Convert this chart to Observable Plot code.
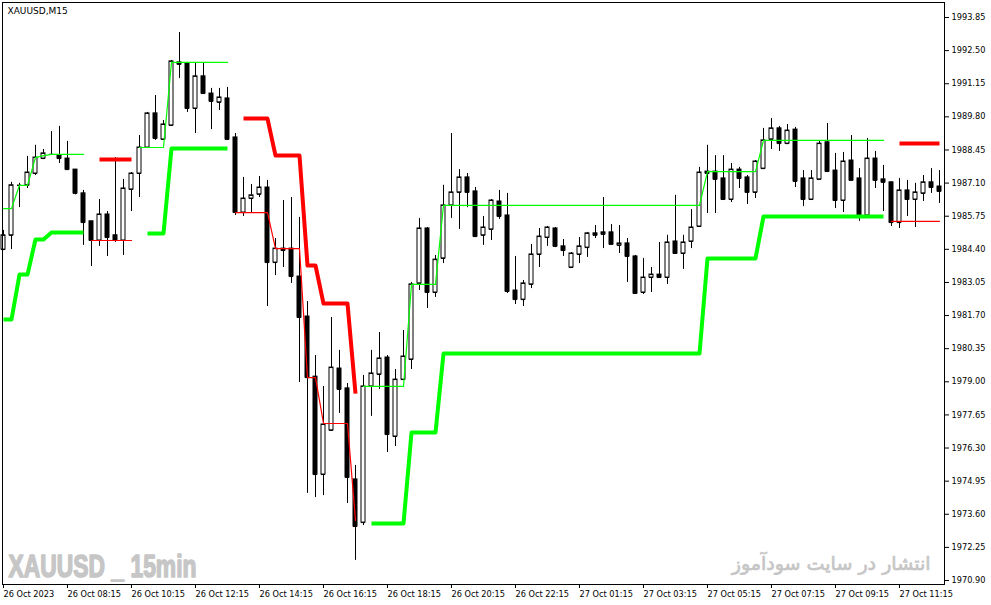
<!DOCTYPE html>
<html><head><meta charset="utf-8">
<script src="https://cdn.jsdelivr.net/npm/d3@7"></script>
<script src="https://cdn.jsdelivr.net/npm/@observablehq/plot@0.6"></script>
<style>
html,body{margin:0;padding:0;background:#fff;}
#chart{width:991px;height:605px;overflow:hidden}
</style></head><body><div id="chart"></div>
<script>
const N = null;
const symbolTitle = "XAUUSD,M15";
const watermarkLeft = "XAUUSD _ 15min";
const watermarkRight = "انتشار در سایت سودآموز";

const xTickBars = [0, 8, 16, 24, 32, 40, 48, 56, 64, 72, 80, 88, 96, 104, 112];
const xTickLabels = ["26 Oct 2023","26 Oct 08:15","26 Oct 10:15","26 Oct 12:15","26 Oct 14:15","26 Oct 16:15","26 Oct 18:15","26 Oct 20:15","26 Oct 22:15","27 Oct 01:15","27 Oct 03:15","27 Oct 05:15","27 Oct 07:15","27 Oct 09:15","27 Oct 11:15"];
const yTicks = [1993.85,1992.50,1991.15,1989.80,1988.45,1987.10,1985.75,1984.40,1983.05,1981.70,1980.35,1979.00,1977.65,1976.30,1974.95,1973.60,1972.25,1970.90];

const open = [
1984.39,1984.97,1987.01,1987.01,1987.49,1988.10,1988.27,1988.22,1988.10,1987.65,
1986.68,1985.54,1984.76,1985.82,1984.97,1984.76,1986.84,1987.49,1988.55,1989.94,
1988.88,1989.45,1992.02,1991.98,1990.14,1991.45,1990.75,1990.39,1990.55,1988.96,
1985.90,1986.47,1986.64,1986.92,1983.86,1984.43,1984.43,1983.29,1981.66,1979.21,
1975.22,1977.02,1979.54,1978.73,1975.02,1973.26,1978.81,1979.30,1979.99,1976.77,
1979.09,1979.91,1983.01,1985.25,1982.64,1984.03,1986.19,1986.72,1987.33,1986.76,
1984.97,1985.21,1986.35,1985.78,1982.72,1982.35,1982.97,1984.19,1984.88,1985.25,
1984.52,1983.66,1984.19,1984.47,1985.05,1985.09,1985.09,1984.56,1984.64,1984.11,
1982.64,1983.25,1983.37,1983.25,1984.72,1984.23,1984.72,1985.33,1987.57,1987.57,
1987.29,1986.43,1987.65,1987.33,1986.72,1987.69,1988.88,1989.33,1988.71,1989.28,
1987.29,1986.43,1987.25,1988.76,1987.61,1986.39,1988.02,1987.29,1985.78,1988.10,
1987.25,1987.13,1985.49,1986.80,1986.43,1986.68,1987.13,1986.96];
const high = [
1985.17,1987.13,1987.09,1988.19,1988.64,1988.47,1989.20,1989.41,1988.80,1987.65,
1986.80,1985.54,1986.43,1985.94,1988.14,1987.25,1987.53,1989.04,1989.98,1990.67,
1989.65,1992.10,1993.24,1992.02,1991.98,1991.98,1990.96,1990.96,1991.00,1989.12,
1987.33,1987.04,1987.37,1987.21,1984.84,1986.39,1986.51,1985.70,1982.27,1980.07,
1978.81,1981.62,1980.28,1978.93,1975.59,1979.26,1980.28,1981.01,1980.07,1979.50,
1981.09,1983.05,1985.66,1985.29,1984.15,1987.01,1989.12,1987.65,1987.49,1986.92,
1985.74,1986.43,1986.80,1986.68,1984.11,1983.13,1984.60,1985.25,1985.33,1985.29,
1984.80,1984.27,1984.88,1985.09,1985.37,1986.51,1985.41,1985.37,1984.84,1984.15,
1984.03,1983.66,1984.68,1984.97,1986.60,1984.97,1986.02,1987.74,1988.64,1988.22,
1988.22,1987.90,1987.74,1987.41,1988.02,1989.33,1989.73,1989.41,1989.49,1989.37,
1987.61,1987.61,1988.80,1989.53,1988.31,1988.35,1989.04,1987.69,1988.92,1988.39,
1987.82,1987.13,1987.29,1987.21,1987.09,1987.41,1987.69,1987.61];
const low = [
1984.35,1984.39,1986.10,1986.88,1987.41,1988.06,1988.23,1987.90,1987.65,1986.62,
1984.56,1983.70,1984.52,1984.11,1984.68,1984.15,1985.94,1986.51,1988.51,1988.84,
1988.84,1989.41,1991.36,1989.98,1989.12,1990.71,1989.28,1990.06,1988.84,1985.78,
1985.74,1985.86,1986.51,1982.07,1983.33,1983.66,1983.01,1978.97,1974.45,1974.28,
1974.36,1976.98,1977.71,1974.04,1971.72,1973.14,1977.59,1978.69,1976.12,1976.36,
1979.05,1979.50,1982.72,1981.99,1982.44,1983.82,1985.66,1985.21,1986.10,1984.88,
1984.56,1984.76,1985.62,1982.60,1982.15,1982.07,1982.80,1983.66,1984.52,1984.47,
1984.11,1983.62,1983.82,1984.07,1984.84,1984.43,1984.60,1984.23,1983.05,1982.56,
1982.56,1982.64,1983.25,1982.97,1984.23,1983.58,1984.43,1985.29,1985.86,1985.86,
1986.39,1986.31,1986.88,1986.23,1986.47,1987.69,1988.47,1988.39,1988.67,1986.92,
1986.14,1986.43,1987.25,1987.57,1986.06,1985.90,1987.21,1985.54,1985.78,1986.88,
1985.94,1985.33,1985.25,1985.74,1985.29,1986.35,1986.68,1986.27];
const close = [
1984.97,1987.01,1987.01,1987.53,1988.14,1988.31,1988.27,1988.10,1987.65,1986.68,
1985.49,1984.76,1985.82,1984.88,1984.76,1986.88,1987.49,1988.55,1989.94,1988.92,
1989.49,1992.06,1991.94,1990.14,1991.45,1990.75,1990.43,1990.59,1988.88,1985.90,
1986.47,1986.60,1986.92,1983.86,1984.43,1984.35,1983.29,1981.62,1979.17,1975.22,
1977.26,1979.58,1978.69,1975.10,1973.10,1978.81,1979.34,1979.95,1976.85,1979.09,
1980.03,1982.97,1985.25,1982.64,1983.98,1986.19,1986.72,1987.33,1986.72,1984.92,
1985.29,1986.39,1985.74,1982.68,1982.35,1983.01,1984.19,1984.92,1985.29,1984.52,
1984.35,1984.23,1984.52,1985.05,1984.97,1985.01,1984.60,1984.64,1984.11,1982.60,
1983.25,1983.37,1983.25,1984.68,1984.23,1984.68,1985.29,1987.53,1987.49,1987.25,
1986.43,1987.65,1987.29,1986.72,1987.98,1988.84,1989.33,1988.71,1989.24,1987.17,
1986.43,1987.29,1988.71,1987.57,1986.39,1987.98,1987.21,1985.78,1988.10,1987.21,
1987.13,1985.49,1986.80,1986.43,1986.72,1987.13,1986.92,1986.76];

// trailing stop (thick) and trend level (thin) buffers, one value per bar
const stopUp = [
1981.54,1981.54,1983.37,1983.37,1984.80,1984.80,1985.09,1985.09,1985.09,1985.09,
1985.09,N,N,N,N,N,N,N,1985.05,1985.05,
1985.05,1988.51,1988.51,1988.51,1988.51,1988.51,1988.51,1988.51,1988.51,N,
N,N,N,N,N,N,N,N,N,N,
N,N,N,N,N,N,1973.22,1973.22,1973.22,1973.22,
1973.22,1976.93,1976.93,1976.93,1976.93,1980.15,1980.15,1980.15,1980.15,1980.15,
1980.15,1980.15,1980.15,1980.15,1980.15,1980.15,1980.15,1980.15,1980.15,1980.15,
1980.15,1980.15,1980.15,1980.15,1980.15,1980.15,1980.15,1980.15,1980.15,1980.15,
1980.15,1980.15,1980.15,1980.15,1980.15,1980.15,1980.15,1980.15,1984.03,1984.03,
1984.03,1984.03,1984.03,1984.03,1984.03,1985.74,1985.74,1985.74,1985.74,1985.74,
1985.74,1985.74,1985.74,1985.74,1985.74,1985.74,1985.74,1985.74,1985.74,1985.74,
1985.74,N,N,N,N,N,N,N];
const stopDn = [
N,N,N,N,N,N,N,N,N,N,
N,N,1988.06,1988.06,1988.06,1988.06,1988.06,N,N,N,
N,N,N,N,N,N,N,N,N,N,
1989.73,1989.73,1989.73,1989.73,1988.22,1988.22,1988.22,1988.22,1983.74,1983.74,
1982.19,1982.19,1982.19,1982.19,1978.52,N,N,N,N,N,
N,N,N,N,N,N,N,N,N,N,
N,N,N,N,N,N,N,N,N,N,
N,N,N,N,N,N,N,N,N,N,
N,N,N,N,N,N,N,N,N,N,
N,N,N,N,N,N,N,N,N,N,
N,N,N,N,N,N,N,N,N,N,
N,N,1988.71,1988.71,1988.71,1988.71,1988.71,1988.71];
const lineUp = [
1986.06,1986.06,1987.01,1987.01,1988.14,1988.22,1988.27,1988.27,1988.27,1988.27,
1988.27,N,N,N,N,N,N,1988.55,1988.55,1988.55,
1988.55,1992.02,1992.02,1992.02,1992.02,1992.02,1992.02,1992.02,1992.02,N,
N,N,N,N,N,N,N,N,N,N,
N,N,N,N,N,1978.81,1978.81,1978.81,1978.81,1978.81,
1978.81,1982.97,1982.97,1982.97,1982.97,1986.19,1986.19,1986.19,1986.19,1986.19,
1986.19,1986.19,1986.19,1986.19,1986.19,1986.19,1986.19,1986.19,1986.19,1986.19,
1986.19,1986.19,1986.19,1986.19,1986.19,1986.19,1986.19,1986.19,1986.19,1986.19,
1986.19,1986.19,1986.19,1986.19,1986.19,1986.19,1986.19,1986.19,1987.57,1987.57,
1987.57,1987.57,1987.57,1987.57,1987.57,1988.84,1988.84,1988.84,1988.84,1988.84,
1988.84,1988.84,1988.84,1988.84,1988.84,1988.84,1988.84,1988.84,1988.84,1988.84,
1988.84,N,N,N,N,N,N,N];
const lineDn = [
N,N,N,N,N,N,N,N,N,N,
N,1984.76,1984.76,1984.76,1984.76,1984.76,1984.76,N,N,N,
N,N,N,N,N,N,N,N,N,1985.90,
1985.90,1985.90,1985.90,1985.90,1984.43,1984.43,1984.43,1984.43,1979.17,1979.17,
1977.30,1977.30,1977.30,1977.30,1973.35,N,N,N,N,N,
N,N,N,N,N,N,N,N,N,N,
N,N,N,N,N,N,N,N,N,N,
N,N,N,N,N,N,N,N,N,N,
N,N,N,N,N,N,N,N,N,N,
N,N,N,N,N,N,N,N,N,N,
N,N,N,N,N,N,N,N,N,N,
N,1985.54,1985.54,1985.54,1985.54,1985.54,1985.54,1985.54];

const bars = open.map((o, i) => ({
  i, open: o, high: high[i], low: low[i], close: close[i],
  stopUp: stopUp[i], stopDn: stopDn[i], lineUp: lineUp[i], lineDn: lineDn[i]
}));

const GREEN = "#00ff00", RED = "#ff0000", WM = "#c6c6c6";
const half = 0.25;

const chart = Plot.plot({
  width: 991, height: 605,
  marginLeft: 2, marginRight: 47, marginTop: 2, marginBottom: 21,
  style: {fontFamily: "'DejaVu Sans', sans-serif", fontSize: "8.2px", background: "#fff", color: "#000"},
  x: {type: "linear", domain: [0, 117], range: [3, 939]},
  y: {type: "linear", domain: [1970.90, 1993.85], range: [580, 17]},
  marks: [
    Plot.ruleX(bars, {x: "i", y1: "low", y2: "high", stroke: "#000", strokeWidth: 1}),
    Plot.rect(bars, {x1: d => d.i - half, x2: d => d.i + half, y1: "open", y2: "close",
      fill: d => d.close >= d.open ? "#ffffff" : "#000000", stroke: "#000", strokeWidth: 1}),
    Plot.ruleY(bars, {y: "close", x1: d => d.i - half, x2: d => d.i + half, stroke: "#000", strokeWidth: 1}),
    Plot.ruleY(bars, {y: "open", x1: d => d.i - half, x2: d => d.i + half, stroke: "#000", strokeWidth: 1}),
    Plot.line(bars, {x: "i", y: "stopUp", stroke: GREEN, strokeWidth: 4, strokeLinecap: "butt"}),
    Plot.line(bars, {x: "i", y: "stopDn", stroke: RED, strokeWidth: 4, strokeLinecap: "butt"}),
    Plot.line(bars, {x: "i", y: "lineUp", stroke: GREEN, strokeWidth: 1.2}),
    Plot.line(bars, {x: "i", y: "lineDn", stroke: RED, strokeWidth: 1.2}),
    Plot.frame({stroke: "#000", strokeWidth: 1}),
    Plot.axisY({anchor: "right", ticks: yTicks, tickSize: 4, tickPadding: 3,
      tickFormat: d => d.toFixed(2), label: null, fill: "#000", stroke: "#000"}),
    Plot.axisX({anchor: "bottom", ticks: xTickBars, tickSize: 4, tickPadding: 3,
      tickFormat: d => xTickLabels[xTickBars.indexOf(d)], textAnchor: "start", label: null, fill: "#000", stroke: "#000"}),
    Plot.text([symbolTitle], {frameAnchor: "top-left", dx: 5, dy: 9, textAnchor: "start", lineAnchor: "middle", fontSize: 9, fill: "#000"}),
    Plot.text([watermarkLeft], {frameAnchor: "bottom-left", dx: 6, dy: -8, textAnchor: "start", lineAnchor: "bottom",
      fontSize: 32, fontWeight: "bold", fill: WM, stroke: WM, strokeWidth: 1.6,
      fontFamily: "'Liberation Sans Narrow', 'Liberation Sans', sans-serif"}),
    Plot.text([watermarkRight], {frameAnchor: "bottom-right", dx: -14, dy: -15, textAnchor: "end", lineAnchor: "bottom",
      fontSize: 22, fill: WM, stroke: WM, strokeWidth: 0.7, fontFamily: "'DejaVu Sans', sans-serif"})
  ]
});

document.getElementById("chart").appendChild(chart);

// fit the two watermarks to the reference widths
d3.select(chart).selectAll("text").each(function() {
  const t = this.textContent;
  let target = 0, base = 0;
  if (t === watermarkLeft) { target = 188; base = 32; }
  if (t === watermarkRight) { target = 199; base = 22; }
  if (!target) return;
  const w = this.getComputedTextLength();
  if (t === watermarkRight && w > target) {
    this.style.fontSize = (base * target / w) + "px";
  }
  const w2 = this.getComputedTextLength();
  if (w2 > 0 && Math.abs(w2 - target) > 1) {
    d3.select(this).attr("textLength", target).attr("lengthAdjust", "spacingAndGlyphs");
  }
});
</script>
</body></html>
